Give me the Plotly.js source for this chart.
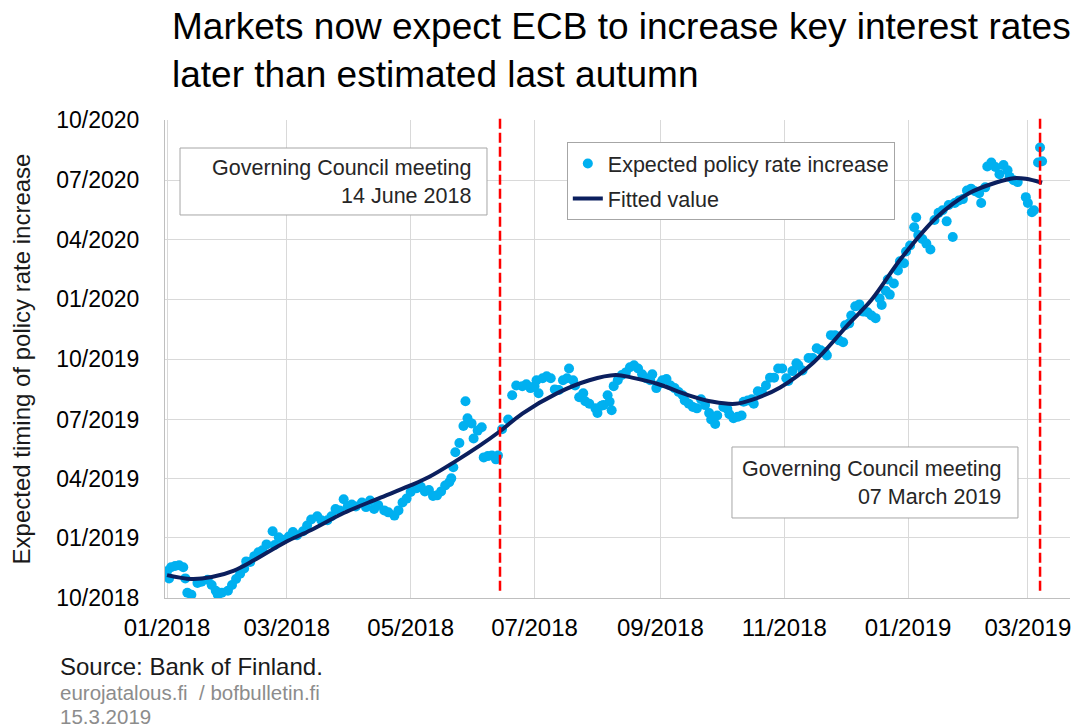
<!DOCTYPE html>
<html>
<head>
<meta charset="utf-8">
<script src="https://cdn.plot.ly/plotly-3.0.1.min.js"></script>
<style>html,body{margin:0;padding:0;background:#fff;}#chart{width:1083px;height:727px;}</style>
</head>
<body>
<div id="chart"></div>
<script>
// Observation date (x) and expected timing of the first policy rate increase (y)
const obsDates = [
"2018-01-01","2018-01-02","2018-01-03","2018-01-05","2018-01-07","2018-01-09","2018-01-10","2018-01-11","2018-01-13","2018-01-16",
"2018-01-18","2018-01-21","2018-01-23","2018-01-25","2018-01-26","2018-01-28","2018-01-31","2018-02-02","2018-02-04","2018-02-06",
"2018-02-08","2018-02-09","2018-02-11","2018-02-13","2018-02-15","2018-02-17","2018-02-19","2018-02-22","2018-02-23","2018-02-25",
"2018-02-27","2018-03-02","2018-03-04","2018-03-06","2018-03-09","2018-03-11","2018-03-13","2018-03-16","2018-03-18","2018-03-21",
"2018-03-23","2018-03-25","2018-03-27","2018-03-29","2018-03-31","2018-04-02","2018-04-04","2018-04-07","2018-04-09","2018-04-11",
"2018-04-13","2018-04-15","2018-04-18","2018-04-20","2018-04-23","2018-04-25","2018-04-27","2018-04-29","2018-05-01","2018-05-04",
"2018-05-06","2018-05-08","2018-05-10","2018-05-12","2018-05-14","2018-05-16","2018-05-18","2018-05-20","2018-05-21","2018-05-22",
"2018-05-23","2018-05-25","2018-05-27","2018-05-28","2018-05-29","2018-05-31","2018-06-01","2018-06-03","2018-06-05","2018-06-06",
"2018-06-08","2018-06-10","2018-06-12","2018-06-13","2018-06-15","2018-06-18","2018-06-20","2018-06-22","2018-06-25","2018-06-27",
"2018-06-29","2018-07-01","2018-07-02","2018-07-03","2018-07-05","2018-07-07","2018-07-09","2018-07-11","2018-07-13","2018-07-15",
"2018-07-17","2018-07-18","2018-07-20","2018-07-21","2018-07-23","2018-07-25","2018-07-26","2018-07-28","2018-07-31","2018-08-01",
"2018-08-03","2018-08-04","2018-08-06","2018-08-07","2018-08-08","2018-08-09","2018-08-11","2018-08-13","2018-08-15","2018-08-17",
"2018-08-19","2018-08-21","2018-08-23","2018-08-25","2018-08-27","2018-08-28","2018-08-30","2018-09-01","2018-09-02","2018-09-04",
"2018-09-06","2018-09-08","2018-09-10","2018-09-12","2018-09-13","2018-09-15","2018-09-17","2018-09-19","2018-09-21","2018-09-23",
"2018-09-25","2018-09-26","2018-09-28","2018-09-29","2018-10-02","2018-10-04","2018-10-05","2018-10-07","2018-10-09","2018-10-11",
"2018-10-12","2018-10-14","2018-10-16","2018-10-17","2018-10-19","2018-10-21","2018-10-23","2018-10-25","2018-10-27","2018-10-29",
"2018-10-31","2018-11-02","2018-11-03","2018-11-05","2018-11-07","2018-11-08","2018-11-10","2018-11-13","2018-11-15","2018-11-17",
"2018-11-19","2018-11-21","2018-11-22","2018-11-24","2018-11-26","2018-11-28","2018-11-30","2018-12-01","2018-12-03","2018-12-04",
"2018-12-06","2018-12-08","2018-12-10","2018-12-12","2018-12-14","2018-12-16","2018-12-18","2018-12-19","2018-12-21","2018-12-22",
"2018-12-23","2018-12-25","2018-12-27","2018-12-28","2018-12-30","2018-12-31","2019-01-02","2019-01-04","2019-01-05","2019-01-06",
"2019-01-08","2019-01-10","2019-01-12","2019-01-14","2019-01-16","2019-01-18","2019-01-20","2019-01-21","2019-01-23","2019-01-24",
"2019-01-26","2019-01-28","2019-01-30","2019-02-01","2019-02-03","2019-02-05","2019-02-06","2019-02-08","2019-02-09","2019-02-11",
"2019-02-13","2019-02-15","2019-02-17","2019-02-19","2019-02-20","2019-02-22","2019-02-24","2019-02-28","2019-03-01","2019-03-03",
"2019-03-04","2019-03-06","2019-03-07","2019-03-08"
];
const obsTiming = [
"2018-11-11","2018-10-31","2018-11-17","2018-11-19","2018-11-20","2018-11-17","2018-10-31","2018-10-09","2018-10-06","2018-10-24",
"2018-10-26","2018-10-29","2018-10-21","2018-10-12","2018-10-06","2018-10-09","2018-10-12","2018-10-21","2018-10-30","2018-11-07",
"2018-11-15","2018-11-26","2018-11-25","2018-12-04","2018-12-10","2018-12-13","2018-12-22","2019-01-11","2018-12-21","2019-01-02",
"2018-12-29","2019-01-03","2019-01-10","2019-01-05","2019-01-11","2019-01-20","2019-01-29","2019-02-03","2019-01-28","2019-01-28",
"2019-02-03","2019-02-14","2019-02-12","2019-03-01","2019-02-18","2019-02-21","2019-02-18","2019-02-24","2019-02-17","2019-02-27",
"2019-02-14","2019-02-20","2019-02-12","2019-02-09","2019-02-04","2019-02-12","2019-02-24","2019-03-02","2019-03-12","2019-03-18",
"2019-03-20","2019-03-13","2019-03-15","2019-03-06","2019-03-07","2019-03-13","2019-03-22","2019-03-27","2019-04-02","2019-04-19",
"2019-05-12","2019-05-26","2019-06-21","2019-07-29","2019-07-03","2019-06-25","2019-06-02","2019-06-14","2019-06-19","2019-05-04",
"2019-05-06","2019-05-07","2019-05-01","2019-05-07","2019-06-16","2019-07-01","2019-08-07","2019-08-22","2019-08-21","2019-08-24",
"2019-08-18","2019-08-21","2019-08-30","2019-08-10","2019-09-02","2019-09-05","2019-09-02","2019-08-16","2019-08-15","2019-08-30",
"2019-09-02","2019-09-17","2019-08-30","2019-08-22","2019-08-04","2019-08-10","2019-07-29","2019-07-25","2019-07-18","2019-07-11",
"2019-07-22","2019-07-23","2019-08-07","2019-07-28","2019-07-15","2019-08-21","2019-08-30","2019-09-07","2019-09-11","2019-09-19",
"2019-09-22","2019-09-17","2019-09-08","2019-09-02","2019-08-30","2019-09-08","2019-08-18","2019-08-25","2019-08-30","2019-09-01",
"2019-08-22","2019-08-18","2019-08-12","2019-08-07","2019-07-30","2019-07-25","2019-07-20","2019-07-18","2019-08-01","2019-07-23",
"2019-07-11","2019-07-01","2019-06-24","2019-07-07","2019-07-20","2019-07-17","2019-07-09","2019-07-03","2019-07-05","2019-07-07",
"2019-07-28","2019-07-30","2019-08-01","2019-07-25","2019-08-13","2019-08-12","2019-08-22","2019-09-03","2019-09-03","2019-09-17",
"2019-09-17","2019-09-02","2019-08-29","2019-09-13","2019-09-25","2019-09-22","2019-09-14","2019-10-03","2019-10-03","2019-10-18",
"2019-10-15","2019-10-12","2019-10-07","2019-11-07","2019-11-07","2019-10-30","2019-10-27","2019-11-22","2019-11-25","2019-12-07",
"2019-12-21","2019-12-24","2019-12-13","2019-12-12","2019-12-07","2019-12-03","2020-01-02","2019-12-23","2020-01-14","2020-01-31",
"2020-01-08","2020-01-25","2020-02-14","2020-02-28","2020-02-25","2020-03-14","2020-03-23","2020-04-20","2020-05-05","2020-04-08",
"2020-04-02","2020-03-26","2020-03-17","2020-05-01","2020-05-12","2020-05-16","2020-04-29","2020-05-24","2020-04-05","2020-05-27",
"2020-05-31","2020-06-02","2020-06-15","2020-06-18","2020-06-14","2020-06-11","2020-05-27","2020-06-20","2020-07-22","2020-07-28",
"2020-07-21","2020-07-10","2020-07-24","2020-07-16","2020-07-06","2020-07-01","2020-06-28","2020-06-05","2020-05-27","2020-05-13",
"2020-05-16","2020-07-28","2020-08-20","2020-07-30"
];
// Fitted value
const fitDates = [
"2018-01-01","2018-01-13","2018-01-23","2018-02-03","2018-02-13","2018-02-28","2018-03-13","2018-03-29","2018-04-15","2018-04-30",
"2018-05-10","2018-05-23","2018-06-04","2018-06-14","2018-06-25","2018-07-12","2018-07-28","2018-08-10","2018-08-18","2018-08-30",
"2018-09-15","2018-09-27","2018-10-08","2018-10-16","2018-10-30","2018-11-15","2018-12-03","2018-12-14","2018-12-29","2019-01-15",
"2019-01-31","2019-02-13","2019-02-22","2019-02-28","2019-03-08"
];
const fitTiming = [
"2018-11-05","2018-10-30","2018-11-02","2018-11-12","2018-11-28","2018-12-25","2019-01-13","2019-02-08","2019-03-02","2019-03-21",
"2019-04-04","2019-04-28","2019-05-22","2019-06-13","2019-07-10","2019-08-10","2019-08-30","2019-09-07","2019-09-03","2019-08-25",
"2019-08-07","2019-07-28","2019-07-25","2019-07-31","2019-08-19","2019-09-25","2019-11-25","2019-12-31","2020-03-05","2020-05-05",
"2020-06-11","2020-06-27","2020-07-04","2020-07-03","2020-06-27"
];
// Governing Council meeting dates
const meetingDates = ["2018-06-14", "2019-03-07"];
const meetingLabels = ["Governing Council meeting<br>14 June 2018", "Governing Council meeting<br>07 March 2019"];

const FONT = "Liberation Sans, Arial, Helvetica, sans-serif";

const traces = [
  {
    type: "scatter", mode: "markers", name: "Expected policy rate increase", legendgroup: "a",
    x: obsDates, y: obsTiming,
    marker: {color: "#00B0F0", size: 10}
  },
  {
    type: "scatter", mode: "lines", name: "Fitted value", legendgroup: "b",
    x: fitDates, y: fitTiming,
    line: {color: "#0B1F5E", width: 4, shape: "spline", smoothing: 1}
  }
];

const shapes = meetingDates.map(d => ({
  type: "line", xref: "x", yref: "paper", x0: d, x1: d, y0: 0.015, y1: 1.01,
  line: {color: "#FF0000", width: 2.5, dash: "10px,4px"}, layer: "above"
}));
shapes.push(
  {type: "rect", xref: "paper", yref: "paper", x0: 0.0166, x1: 0.3558, y0: 0.8013, y1: 0.9414,
   line: {color: "#A6A6A6", width: 1}, fillcolor: "#FFFFFF", layer: "above"},
  {type: "rect", xref: "paper", yref: "paper", x0: 0.6265, x1: 0.9425, y0: 0.1674, y1: 0.3159,
   line: {color: "#A6A6A6", width: 1}, fillcolor: "#FFFFFF", layer: "above"}
);

const annotations = [
  {xref: "paper", yref: "paper", x: 0.3403, y: 0.8713, xanchor: "right", yanchor: "middle",
   align: "right", showarrow: false, text: meetingLabels[0], font: {family: FONT, size: 21.5, color: "#262626"}},
  {xref: "paper", yref: "paper", x: 0.926, y: 0.2416, xanchor: "right", yanchor: "middle",
   align: "right", showarrow: false, text: meetingLabels[1], font: {family: FONT, size: 21.5, color: "#262626"}},
  {xref: "paper", yref: "paper", x: -0.118, y: -0.1423, xanchor: "left", yanchor: "middle",
   align: "left", showarrow: false, text: "Source: Bank of Finland.", font: {family: FONT, size: 24, color: "#1a1a1a"}},
  {xref: "paper", yref: "paper", x: -0.118, y: -0.1967, xanchor: "left", yanchor: "middle",
   align: "left", showarrow: false, text: "eurojatalous.fi&nbsp; / bofbulletin.fi", font: {family: FONT, size: 20.5, color: "#8C8C8C"}},
  {xref: "paper", yref: "paper", x: -0.118, y: -0.2469, xanchor: "left", yanchor: "middle",
   align: "left", showarrow: false, text: "15.3.2019", font: {family: FONT, size: 20.5, color: "#8C8C8C"}}
];

const layout = {
  width: 1083, height: 727,
  margin: {l: 165, r: 13, t: 120, b: 129, autoexpand: false},
  paper_bgcolor: "#FFFFFF", plot_bgcolor: "#FFFFFF",
  font: {family: FONT, color: "#000000"},
  title: {
    text: "Markets now expect ECB to increase key interest rates<br>later than estimated last autumn",
    font: {family: FONT, size: 37, color: "#000000"},
    x: 172 / 1083, xref: "container", xanchor: "left",
    y: 0.946, yref: "container", yanchor: "top"
  },
  xaxis: {
    type: "date", range: ["2017-12-31", "2019-03-21 18:00"],
    tick0: "2018-01-01", dtick: "M2", tickformat: "%m/%Y",
    tickfont: {family: FONT, size: 24, color: "#000000"},
    showgrid: true, gridcolor: "#D9D9D9", gridwidth: 1,
    showline: true, linecolor: "#BFBFBF", linewidth: 1,
    ticks: "", ticklabelstandoff: 8, zeroline: false, automargin: false
  },
  yaxis: {
    type: "date", range: ["2018-10-01", "2020-10-01"],
    tick0: "2018-10-01", dtick: "M3", tickformat: "%m/%Y",
    tickfont: {family: FONT, size: 23, color: "#000000"},
    showgrid: true, gridcolor: "#D9D9D9", gridwidth: 1,
    showline: true, linecolor: "#BFBFBF", linewidth: 1,
    ticks: "", ticklabelstandoff: 20, zeroline: false, automargin: false,
    title: {text: "Expected timing of policy rate increase", font: {family: FONT, size: 24, color: "#1a1a1a"}, standoff: 18}
  },
  showlegend: true,
  legend: {
    x: 0.444, y: 0.954, xanchor: "left", yanchor: "top",
    bgcolor: "#FFFFFF", bordercolor: "#A6A6A6", borderwidth: 1,
    font: {family: FONT, size: 21.5, color: "#262626"},
    itemwidth: 30, tracegroupgap: 4
  },
  shapes: shapes,
  annotations: annotations,
  hovermode: false
};

Plotly.newPlot("chart", traces, layout, {displayModeBar: false, staticPlot: true});
</script>
</body>
</html>
